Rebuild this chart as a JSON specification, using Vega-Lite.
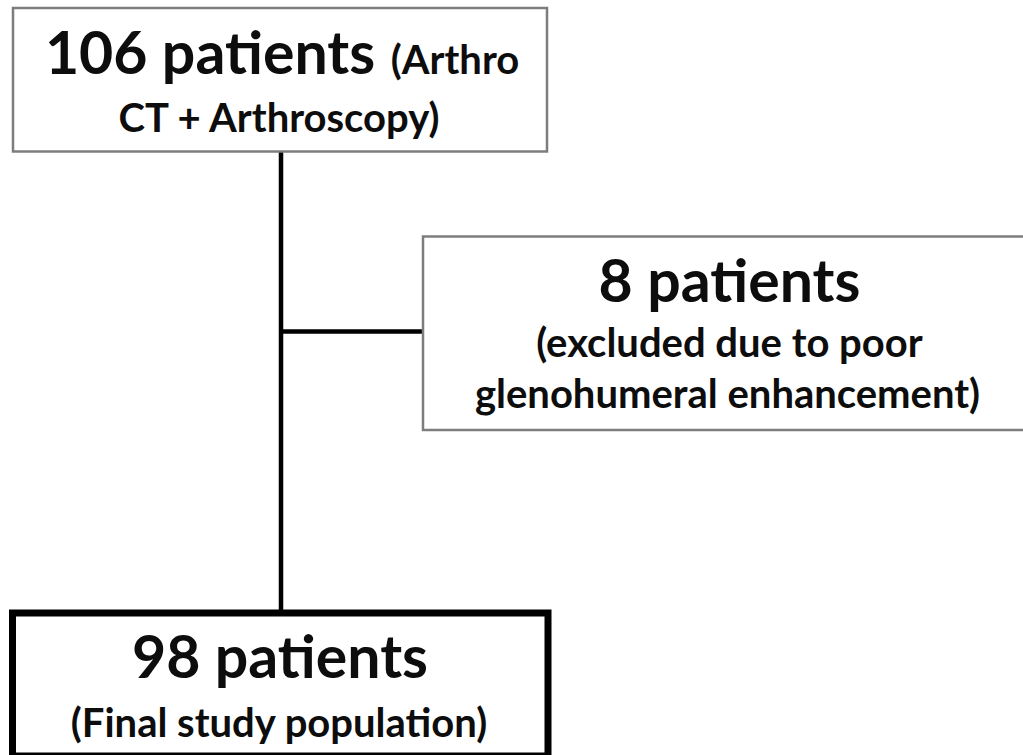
{
  "$schema": "https://vega.github.io/schema/vega-lite/v6.json",
  "width": 1023,
  "height": 755,
  "autosize": {"type": "fit", "contains": "padding"},
  "padding": 0,
  "background": "white",
  "config": {"view": {"stroke": null}},
  "datasets": {
    "boxes": [
      {"box": "start", "kind": "normal", "left": 13, "right": 547, "top": 8, "bottom": 151.5},
      {"box": "excluded", "kind": "normal", "left": 423, "right": 1040, "top": 236.5, "bottom": 430},
      {"box": "final", "kind": "final", "left": 12.5, "right": 548, "top": 613, "bottom": 756}
    ],
    "links": [
      {"from": "start", "to": "final", "x1": 281, "y1": 145, "x2": 281, "y2": 615},
      {"from": "trunk", "to": "excluded", "x1": 281, "y1": 331.5, "x2": 426, "y2": 331.5}
    ],
    "labels": [
      {"box": "start", "role": "head", "text": "106 patients", "cx": 210, "base": 74},
      {"box": "start", "role": "sub", "text": "(Arthro", "cx": 455, "base": 74},
      {"box": "start", "role": "sub", "text": "CT + Arthroscopy)", "cx": 279, "base": 132},
      {"box": "excluded", "role": "head", "text": "8 patients", "cx": 729.5, "base": 302},
      {"box": "excluded", "role": "sub", "text": "(excluded due to poor", "cx": 729.5, "base": 357},
      {"box": "excluded", "role": "sub", "text": "glenohumeral enhancement)", "cx": 727.5, "base": 408},
      {"box": "final", "role": "head", "text": "98 patients", "cx": 280, "base": 678},
      {"box": "final", "role": "sub", "text": "(Final study population)", "cx": 279, "base": 737}
    ]
  },
  "layer": [
    {
      "data": {"name": "links"},
      "mark": {"type": "rule", "color": "#000000", "strokeWidth": 4.5},
      "encoding": {
        "x": {"field": "x1", "type": "quantitative", "scale": {"domain": [0, 1023], "nice": false, "zero": false}, "axis": null},
        "x2": {"field": "x2"},
        "y": {"field": "y1", "type": "quantitative", "scale": {"domain": [0, 755], "nice": false, "zero": false, "reverse": true}, "axis": null},
        "y2": {"field": "y2"}
      }
    },
    {
      "data": {"name": "boxes"},
      "transform": [{"filter": "datum.kind === 'normal'"}],
      "mark": {"type": "rect", "fill": "white", "stroke": "#7d7d7d", "strokeWidth": 2.5, "clip": true},
      "encoding": {
        "x": {"field": "left", "type": "quantitative", "scale": {"domain": [0, 1023], "nice": false, "zero": false}, "axis": null},
        "x2": {"field": "right"},
        "y": {"field": "top", "type": "quantitative", "scale": {"domain": [0, 755], "nice": false, "zero": false, "reverse": true}, "axis": null},
        "y2": {"field": "bottom"}
      }
    },
    {
      "data": {"name": "boxes"},
      "transform": [{"filter": "datum.kind === 'final'"}],
      "mark": {"type": "rect", "fill": "white", "stroke": "#000000", "strokeWidth": 7, "clip": true},
      "encoding": {
        "x": {"field": "left", "type": "quantitative", "scale": {"domain": [0, 1023], "nice": false, "zero": false}, "axis": null},
        "x2": {"field": "right"},
        "y": {"field": "top", "type": "quantitative", "scale": {"domain": [0, 755], "nice": false, "zero": false, "reverse": true}, "axis": null},
        "y2": {"field": "bottom"}
      }
    },
    {
      "data": {"name": "labels"},
      "transform": [{"filter": "datum.role === 'head'"}],
      "mark": {"type": "text", "font": "Lato", "fontWeight": "bold", "fontSize": 59, "align": "center", "baseline": "alphabetic", "color": "#0d0d0d"},
      "encoding": {
        "x": {"field": "cx", "type": "quantitative", "scale": {"domain": [0, 1023], "nice": false, "zero": false}, "axis": null},
        "y": {"field": "base", "type": "quantitative", "scale": {"domain": [0, 755], "nice": false, "zero": false, "reverse": true}, "axis": null},
        "text": {"field": "text"}
      }
    },
    {
      "data": {"name": "labels"},
      "transform": [{"filter": "datum.role === 'sub'"}],
      "mark": {"type": "text", "font": "Lato", "fontWeight": "bold", "fontSize": 40, "align": "center", "baseline": "alphabetic", "color": "#0d0d0d"},
      "encoding": {
        "x": {"field": "cx", "type": "quantitative", "scale": {"domain": [0, 1023], "nice": false, "zero": false}, "axis": null},
        "y": {"field": "base", "type": "quantitative", "scale": {"domain": [0, 755], "nice": false, "zero": false, "reverse": true}, "axis": null},
        "text": {"field": "text"}
      }
    }
  ]
}
